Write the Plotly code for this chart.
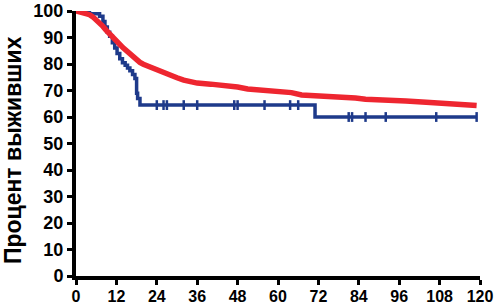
import plotly.graph_objects as go

# Blue group (Kaplan-Meier steps)
blue_months = [0, 2, 4, 7, 8, 8.6, 9.3, 10, 10.8, 11.5, 12.2, 13, 13.8, 14.6, 15.3, 16, 16.8, 17.5, 18, 18.3, 19, 71, 119]
blue_surv = [100, 99.5, 99, 98, 96, 94, 92, 90.5, 88, 86, 84, 82, 80.5, 79.5, 78.5, 77.5, 76, 74.5, 69, 67, 64.5, 60, 60]

# Blue censored observations
blue_cens_months = [24, 26, 27, 32, 36, 47, 48, 56, 63.6, 66, 81, 82, 86, 92, 107, 119]
blue_cens_surv = [64.5, 64.5, 64.5, 64.5, 64.5, 64.5, 64.5, 64.5, 64.5, 64.5, 60, 60, 60, 60, 60, 60]

# Red group
red_months = [0, 2, 4, 5, 6, 7, 8, 9, 10, 11, 12, 13, 14, 15, 16, 17, 18, 19, 20, 22, 24, 26, 28, 30, 32, 34, 36, 40,
              44, 48, 51, 55, 60, 64, 67, 72, 78, 83, 86, 93, 98, 104, 110, 116, 119]
red_surv = [100, 99.5, 98.6, 97.8, 96.7, 95.5, 94.2, 92.7, 91.2, 89.9, 88.6, 87.4, 86.1, 84.9, 83.6, 82.4, 81.4, 80.6,
            79.9, 78.8, 77.8, 76.8, 75.7, 74.8, 73.9, 73.2, 72.8, 72.4, 72.0, 71.3, 70.6, 70.1, 69.9, 69.2, 68.3, 68.0,
            67.7, 67.2, 66.7, 66.5, 66.0, 65.6, 65.2, 64.8, 64.3]

x_ticks = [0, 12, 24, 36, 48, 60, 72, 84, 96, 108, 120]
y_ticks = [0, 10, 20, 30, 40, 50, 60, 70, 80, 90, 100]
y_title = "Процент выживших"

BLUE = "#1E3A8A"
RED = "#EE2630"
FONT = "Liberation Sans, Arial, sans-serif"

fig = go.Figure()
fig.add_trace(go.Scatter(x=blue_months, y=blue_surv, mode="lines", line=dict(color=BLUE, width=3.5, shape="hv"),
                         showlegend=False, cliponaxis=False))
fig.add_trace(go.Scatter(x=blue_cens_months, y=blue_cens_surv, mode="markers",
                         marker=dict(symbol="line-ns-open", size=7, color=BLUE, line=dict(color=BLUE, width=2.5)),
                         showlegend=False, cliponaxis=False))
fig.add_trace(go.Scatter(x=red_months, y=red_surv, mode="lines", line=dict(color=RED, width=5.5, shape="linear"),
                         showlegend=False, cliponaxis=False))

fig.update_layout(
    width=496, height=307,
    margin=dict(l=76, r=16, t=11, b=31),
    paper_bgcolor="white", plot_bgcolor="white",
)
fig.update_xaxes(range=[0, 120], tickvals=x_ticks, ticktext=[str(v) for v in x_ticks],
                 showgrid=False, zeroline=False, showline=True, linecolor="black", linewidth=4,
                 ticks="outside", ticklen=5, tickwidth=3, tickcolor="black",
                 tickfont=dict(family=FONT, size=16, color="black", weight="bold"),
                 ticklabelstandoff=-2,
                 ticklabeloverflow="allow", automargin=False)
fig.update_yaxes(range=[0, 100], tickvals=y_ticks, ticktext=[str(v) for v in y_ticks],
                 showgrid=False, zeroline=False, showline=True, linecolor="black", linewidth=4,
                 ticks="outside", ticklen=5, tickwidth=3, tickcolor="black",
                 tickfont=dict(family=FONT, size=18, color="black", weight="bold"),
                 ticklabeloverflow="allow", automargin=False)
fig.add_annotation(text=y_title, textangle=-90, xref="paper", yref="paper",
                   x=-0.156, y=0.475, xanchor="center", yanchor="middle", showarrow=False,
                   font=dict(family=FONT, size=23, color="black", weight="bold"))

fig.write_html("out.html", config={"displayModeBar": False},
               post_script="document.body.style.margin='0';document.body.style.overflow='hidden';")
